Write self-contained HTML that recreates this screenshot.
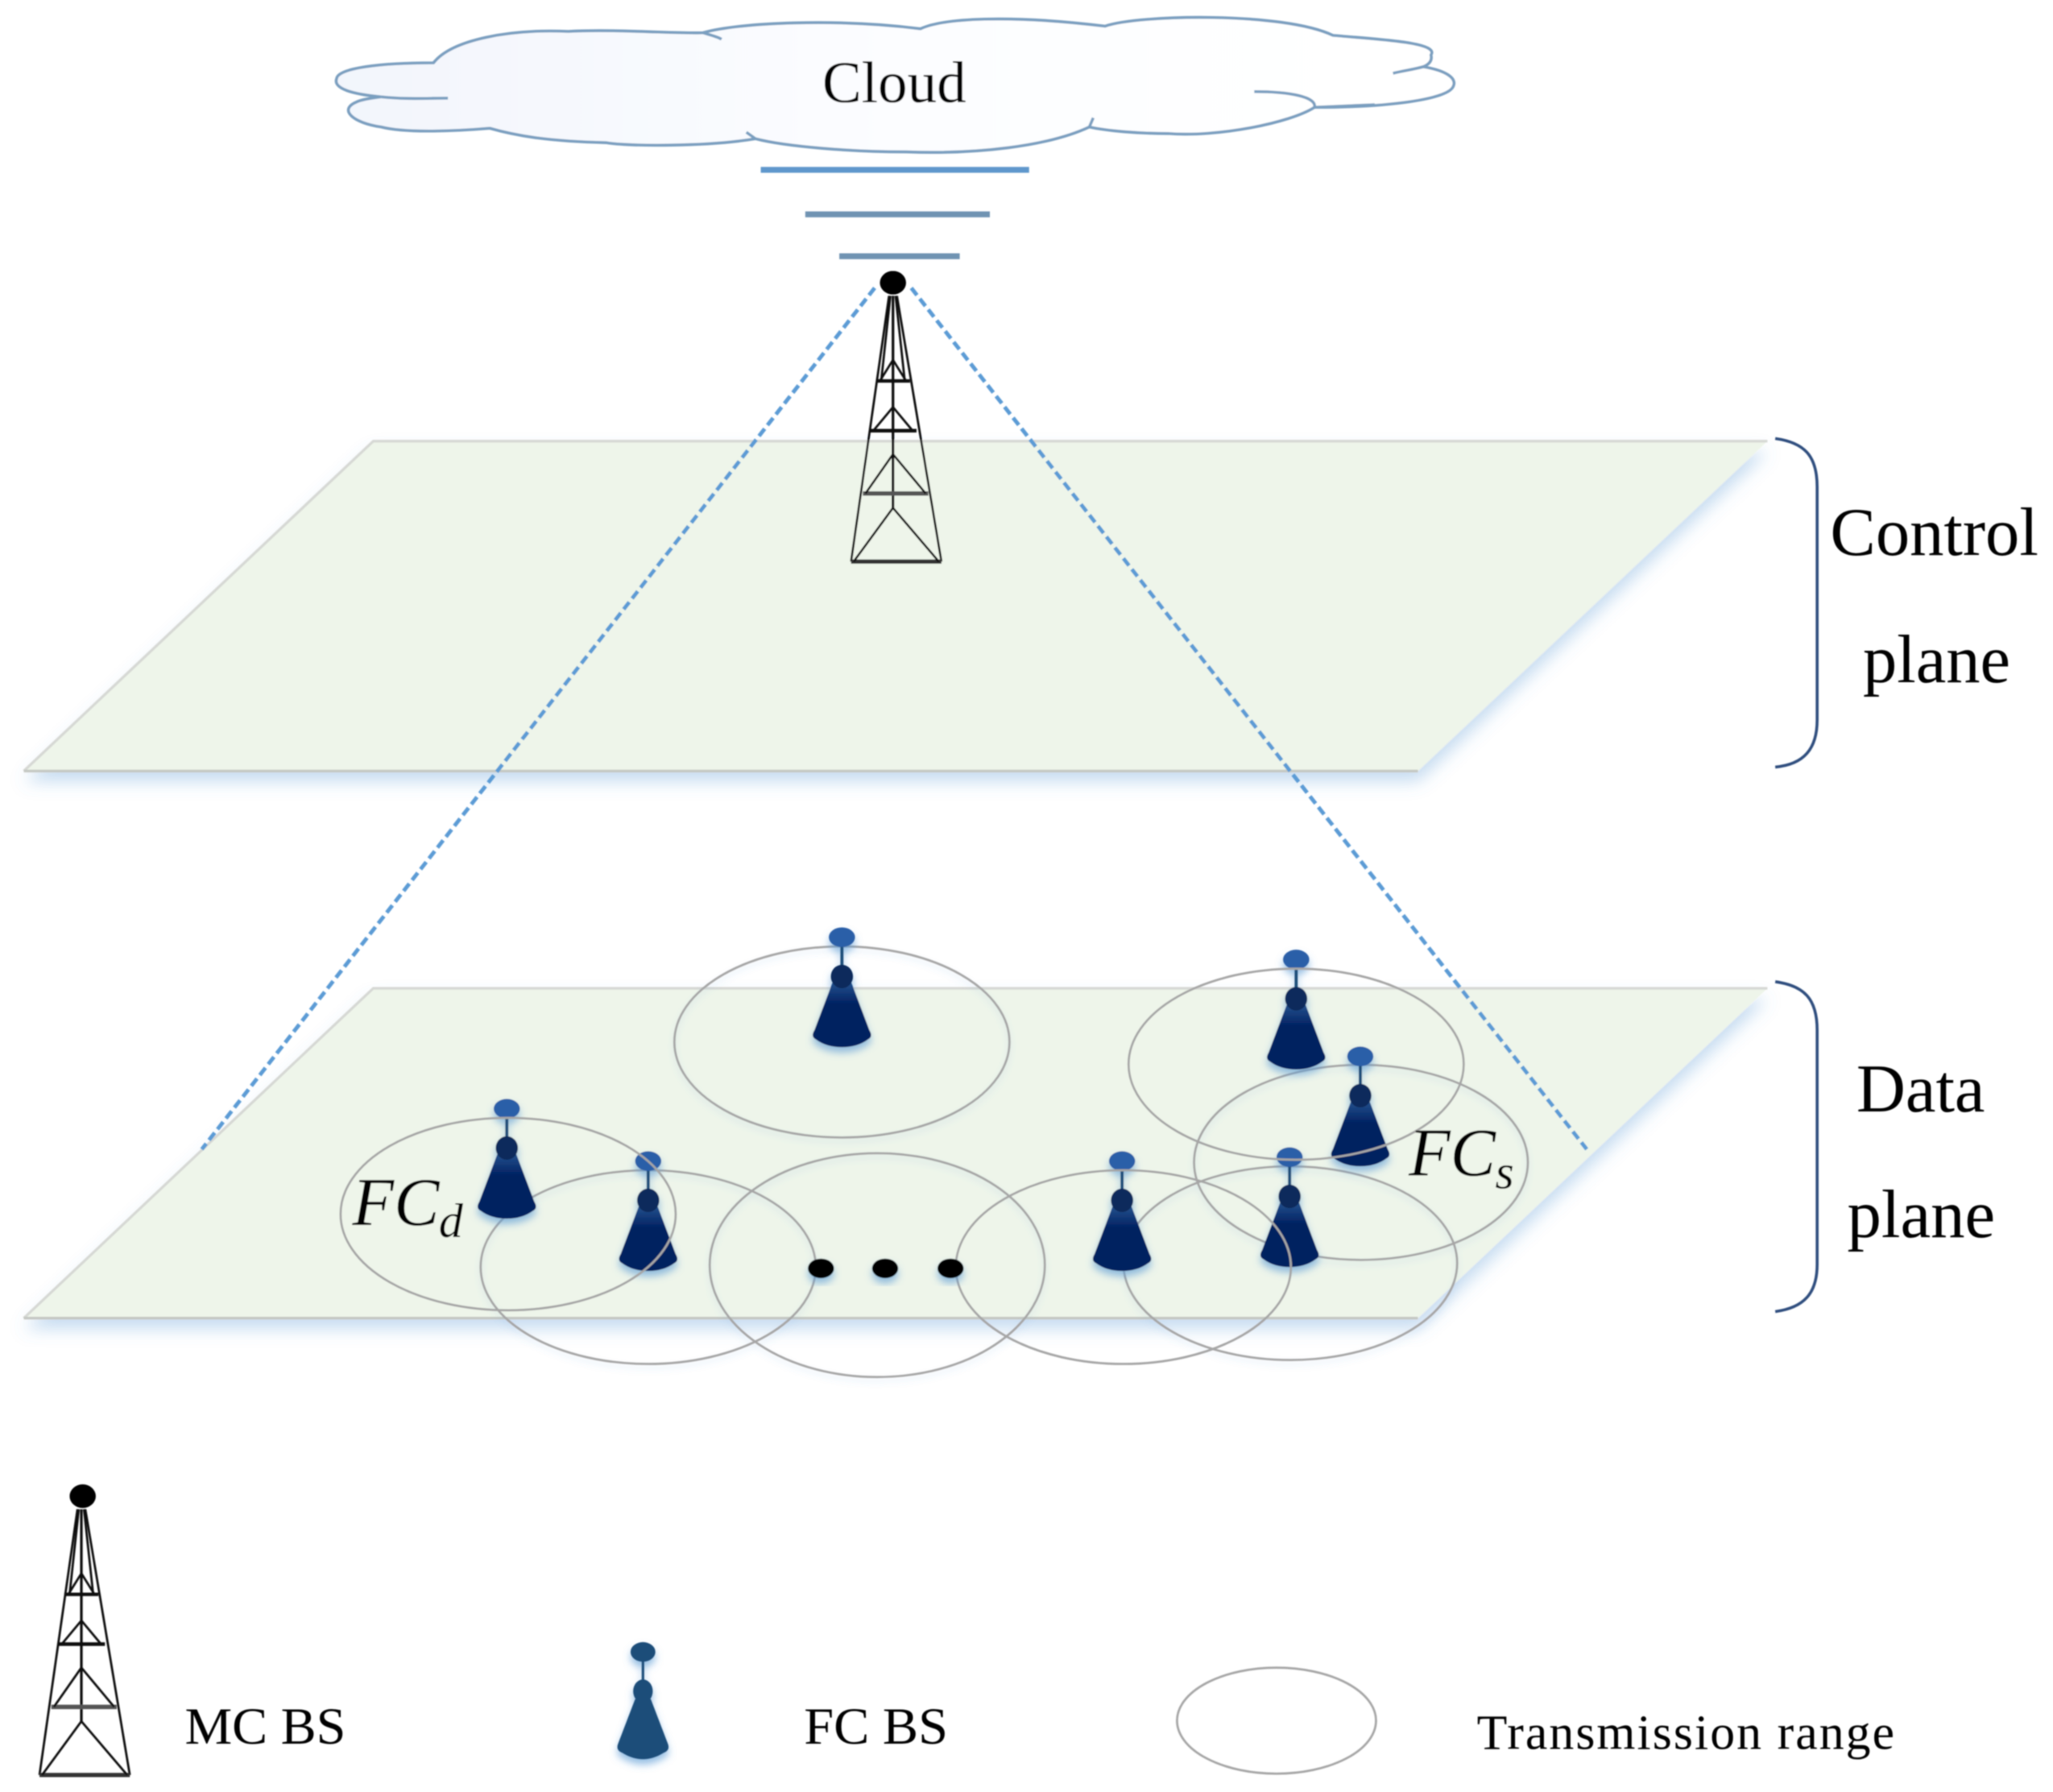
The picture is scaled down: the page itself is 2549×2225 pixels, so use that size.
<!DOCTYPE html>
<html>
<head>
<meta charset="utf-8">
<style>
html,body{margin:0;padding:0;background:#fff;}
svg{display:block;}
text{font-family:"Liberation Serif",serif;fill:#000;}
</style>
</head>
<body>
<svg width="2549" height="2225" viewBox="0 0 1568 1369" xmlns="http://www.w3.org/2000/svg">
<defs>
<linearGradient id="cg" x1="0" y1="0" x2="1" y2="0">
<stop offset="0" stop-color="#f2f5fc"/><stop offset="0.5" stop-color="#fcfdff"/><stop offset="1" stop-color="#ffffff"/>
</linearGradient>
<linearGradient id="bg" x1="0" y1="0" x2="0" y2="1">
<stop offset="0" stop-color="#24528f"/><stop offset="0.35" stop-color="#002060"/><stop offset="1" stop-color="#002060"/>
</linearGradient>
<filter id="soft" x="-5%" y="-5%" width="110%" height="110%"><feGaussianBlur stdDeviation="0.55"/></filter>
<filter id="ps" x="-10%" y="-10%" width="120%" height="130%">
<feDropShadow dx="0" dy="8" stdDeviation="6.500" flood-color="#5b9bd5" flood-opacity="0.36"/>
</filter>
<filter id="is" x="-60%" y="-30%" width="220%" height="170%">
<feDropShadow dx="0" dy="4" stdDeviation="3" flood-color="#5b9bd5" flood-opacity="0.65"/>
</filter>
<filter id="es" x="-10%" y="-10%" width="120%" height="125%">
<feDropShadow dx="0" dy="3" stdDeviation="2.500" flood-color="#5b9bd5" flood-opacity="0.18"/>
</filter>
<g id="tower" fill="none" stroke="#111" stroke-width="1.700">
<path d="M679,226 L650,429 M685,226 L719,429"/>
<path d="M680,226 L673,291 M684,226 L691,291"/>
<path d="M682,226 V388" stroke-width="2"/>
<path d="M650,429 H719" stroke-width="3.200" stroke="#333"/>
<path d="M659,377 H709" stroke-width="3.400" stroke="#555"/>
<path d="M664,329 H700" stroke-width="2.800"/>
<path d="M669,291 H695" stroke-width="2.600"/>
<path d="M682,275 L672,291 M682,275 L692,291"/>
<path d="M682,311 L667,329 M682,311 L697,329"/>
<path d="M682,347 L661,377 M682,347 L707,377"/>
<path d="M682,388 L652,429 M682,388 L717,429"/>
</g>
<g id="fc" filter="url(#is)">
<path d="M0,-4 V34" stroke="#1f4e79" stroke-width="2.400" fill="none"/>
<path d="M-7,34 L-21,71 Q-24,76 -20,78 Q-12,84 0,84 Q12,84 20,78 Q24,76 21,71 L7,34 Z" fill="url(#bg)"/>
<ellipse cx="0" cy="30" rx="8.500" ry="9" fill="#0b2a5c"/>
<ellipse cx="0" cy="0" rx="10" ry="7.500" fill="#2b5ea8"/>
</g>
</defs>

<rect x="0" y="0" width="1568" height="1369" fill="#fff"/>
<g filter="url(#soft)">

<!-- Cloud -->
<path d="M331,48 C345,30 390,22 434,24 C470,22 520,26 537,25 C565,17 640,14 703,22 C720,14 770,11 844,20 C870,11 980,9 1018,27 C1050,30 1100,32 1093,42 C1094,46 1092,49 1087,51 C1105,54 1113,60 1110,66 C1106,76 1060,82 1004,82 C985,94 930,105 892,102 C870,102 845,100 832,97 C800,112 745,118 692,116 C650,116 600,112 577,106 C540,112 480,112 463,109 C420,108 395,104 374,98 C350,100 310,102 291,97 C270,94 258,84 272,78 C276,76 283,75 291,74 C270,72 254,68 257,60 C258,52 290,48 331,48 Z" fill="url(#cg)" stroke="#7a9fc0" stroke-width="2.200"/>
<path d="M291,74 C310,76 325,75 342,75 M537,25 C543,27 548,28 551,30 M577,106 L570,101 M832,97 L835,90 M1004,82 C1006,74 985,70 958,70 M1087,51 C1080,53 1072,54 1064,56 M1004,82 L1050,80" fill="none" stroke="#7a9fc0" stroke-width="2.200"/>
<text x="683" y="78" font-size="45" text-anchor="middle">Cloud</text>

<!-- Signal bars -->
<rect x="581" y="127.500" width="205" height="4.500" fill="#5f97cc"/>
<rect x="615" y="161.500" width="141" height="4.500" fill="#7093b2"/>
<rect x="641" y="193.500" width="92" height="4.500" fill="#7093b2"/>

<!-- Control plane -->
<path d="M285,337 H1350 L1083,589 H18 Z" fill="#eef5ea" filter="url(#ps)"/>
<path d="M18,589 L285,337 H1350" fill="none" stroke="#d6d8d4" stroke-width="2"/>
<path d="M18,589 H1083" fill="none" stroke="#c4c7c2" stroke-width="2"/>

<!-- Data plane -->
<path d="M285,755 H1350 L1083,1007 H18 Z" fill="#eef5ea" filter="url(#ps)"/>
<path d="M18,1007 L285,755 H1350" fill="none" stroke="#d6d8d4" stroke-width="2"/>
<path d="M18,1007 H1083" fill="none" stroke="#c4c7c2" stroke-width="2"/>

<!-- Main tower -->
<use href="#tower"/>
<ellipse cx="682" cy="216" rx="10" ry="9" fill="#000"/>

<!-- Dashed lines -->
<path d="M668,220 L154,878" fill="none" stroke="#5b9bd5" stroke-width="3" stroke-dasharray="7 3.500"/>
<path d="M696,220 L1212,878" fill="none" stroke="#5b9bd5" stroke-width="3" stroke-dasharray="7 3.500"/>

<!-- Range ellipses below towers -->
<g fill="none" stroke="#a6a6a6" stroke-width="1.700" filter="url(#es)">
<ellipse cx="643" cy="796" rx="128" ry="73"/>
<ellipse cx="1039.500" cy="888" rx="127.500" ry="74.500"/>
<ellipse cx="985.500" cy="965" rx="127.500" ry="74"/>
<ellipse cx="495" cy="968" rx="128" ry="74"/>
<ellipse cx="670" cy="966.500" rx="128" ry="85.500"/>
</g>

<!-- Femto cell towers -->
<use href="#fc" x="643" y="716"/>
<use href="#fc" x="990" y="733"/>
<use href="#fc" x="1039" y="807"/>
<use href="#fc" x="387" y="847"/>
<use href="#fc" x="495" y="887"/>
<use href="#fc" x="857" y="887"/>
<use href="#fc" x="985" y="884"/>

<!-- Range ellipses above towers -->
<g fill="none" stroke="#a6a6a6" stroke-width="1.700">
<ellipse cx="990" cy="813" rx="128" ry="73"/>
<ellipse cx="388" cy="927.500" rx="128" ry="73.500"/>
<ellipse cx="858" cy="968" rx="128" ry="74"/>
</g>

<!-- Ellipsis dots -->
<g fill="#000" filter="url(#is)">
<ellipse cx="627" cy="969" rx="10" ry="7.500"/>
<ellipse cx="676" cy="969" rx="10" ry="7.500"/>
<ellipse cx="726" cy="969" rx="10" ry="7.500"/>
</g>

<!-- Braces -->
<path d="M1356,335 C1378,338 1388,348 1388,372 V550 C1388,572 1378,584 1356,586" fill="none" stroke="#2f4d7e" stroke-width="2.200"/>
<path d="M1356,750 C1378,753 1388,763 1388,787 V966 C1388,988 1378,999 1356,1002" fill="none" stroke="#2f4d7e" stroke-width="2.200"/>

<!-- Plane labels -->
<text x="1398" y="424" font-size="52" textLength="159" lengthAdjust="spacingAndGlyphs">Control</text>
<text x="1423" y="521" font-size="52">plane</text>
<text x="1418" y="849" font-size="52">Data</text>
<text x="1411" y="945" font-size="52" textLength="113" lengthAdjust="spacingAndGlyphs">plane</text>

<!-- Cell labels -->
<text x="269" y="936" font-size="52" font-style="italic">FC</text>
<text x="335" y="945" font-size="37" font-style="italic">d</text>
<text x="1076" y="898" font-size="52" font-style="italic">FC</text>
<text x="1142" y="908" font-size="37" font-style="italic">s</text>

<!-- Legend -->
<g transform="translate(-620,927)"><use href="#tower"/></g>
<ellipse cx="63" cy="1143" rx="10" ry="9" fill="#000"/>
<text x="141" y="1332" font-size="40" textLength="123" lengthAdjust="spacingAndGlyphs">MC BS</text>

<g filter="url(#is)">
<path d="M491,1262 V1290" stroke="#1f4e79" stroke-width="2"/>
<path d="M485,1298 L472,1332 Q470,1337 475,1339 Q483,1344 491,1344 Q499,1344 507,1339 Q512,1337 510,1332 L497,1298 Z" fill="#1f4e79"/>
<ellipse cx="491" cy="1292" rx="7.500" ry="9" fill="#1f4e79"/>
<ellipse cx="491" cy="1262" rx="9.500" ry="7.500" fill="#1f4e79"/>
</g>
<text x="614" y="1332" font-size="40" textLength="110" lengthAdjust="spacingAndGlyphs">FC BS</text>

<ellipse cx="975" cy="1314.500" rx="76" ry="40.500" fill="none" stroke="#a6a6a6" stroke-width="1.700"/>
<text x="1128" y="1336" font-size="38" textLength="319" lengthAdjust="spacing">Transmission range</text>
</g>
</svg>
</body>
</html>
